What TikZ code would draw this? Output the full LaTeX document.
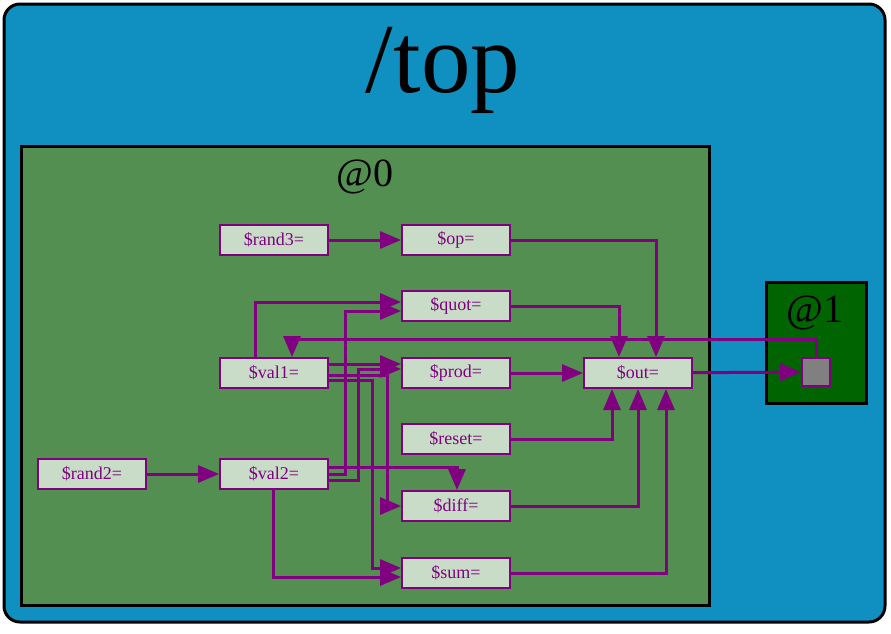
\documentclass[tikz,border=0pt]{standalone}
\usepackage{fontspec}
\setmainfont{Liberation Serif}
\usetikzlibrary{arrows.meta}
\definecolor{topblue}{HTML}{1090C0}
\definecolor{grpgreen}{HTML}{528F50}
\definecolor{darkgrp}{HTML}{006400}
\definecolor{nodefill}{HTML}{C8DCC8}
\definecolor{edgepurple}{HTML}{800080}
\tikzset{
  sig/.style={draw=edgepurple, line width=2pt, fill=nodefill, text=edgepurple,
    minimum width=108pt, minimum height=30pt, inner sep=0pt,
    font=\fontsize{18}{20}\selectfont},
  port/.style={draw=edgepurple, line width=2pt, fill=gray, minimum size=28pt, inner sep=0pt},
  wire/.style={draw=edgepurple, line width=3pt, -{Triangle[length=21pt,width=17pt]}},
}
\begin{document}
\begin{tikzpicture}[x=1pt,y=-1pt]
\useasboundingbox (0,0) rectangle (891,633);
% outer group
\draw[line width=3pt, fill=topblue, rounded corners=16pt] (4,4) rectangle (885,622);
\node[anchor=base, font=\fontsize{99}{100}\selectfont] (toplabel) at (443,92) {/top};
% @0 group
\draw[line width=3pt, fill=grpgreen] (21,146) rectangle (709,605);
\node[anchor=base, font=\fontsize{40}{42}\selectfont] (g0label) at (365,186) {@0};
% @1 group
\draw[line width=3pt, fill=darkgrp] (766,282) rectangle (866,403);
\node[anchor=base, font=\fontsize{40}{42}\selectfont] (g1label) at (815,322) {@1};
\node[port] (sq) at (816,372) {};
% signal nodes
\node[sig] (rand3) at (274,240) {\$rand3=};
\node[sig] (op) at (456,240) {\$op=};
\node[sig] (quot) at (456,306) {\$quot=};
\node[sig] (val1) at (274,373) {\$val1=};
\node[sig] (prod) at (456,373) {\$prod=};
\node[sig] (out) at (638,373) {\$out=};
\node[sig] (reset) at (456,439) {\$reset=};
\node[sig] (rand2) at (92,474) {\$rand2=};
\node[sig] (val2) at (274,474) {\$val2=};
\node[sig] (diff) at (456,506) {\$diff=};
\node[sig] (sum) at (456,573) {\$sum=};
% connectors
\coordinate (fb) at (816,339);
\draw[wire] (rand3) -- (op);
\draw[wire] (op.east) -| ([xshift=18pt]out.north);
\draw[wire] (quot.east) -| ([xshift=-19pt]out.north);
\draw[wire] (prod) -- (out);
\draw[wire] (reset.east) -| ([xshift=-26pt]out.south);
\draw[wire] (diff.east) -| (out.south);
\draw[wire] (sum.east) -| ([xshift=28pt]out.south);
\draw[wire] (out) -- (sq);
\draw[wire] (sq.north) -- (sq.north |- fb) -| ([xshift=18pt]val1.north);
\draw[wire] (rand2) -- (val2);
\draw[wire] ([xshift=-19pt]val1.north) |- ([yshift=4pt]quot.west);
\draw[wire] (val2.east) -- ++(16,0) |- ([yshift=-5pt]quot.west);
\draw[wire] ([yshift=-6pt]val2.east) -- ++(29,0) |- ([yshift=4pt]prod.west);
\draw[wire] ([yshift=9pt]val1.east) -- ([yshift=9pt]prod.west);
\draw[wire] ([yshift=-2pt]val1.east) -- ++(58,0) |- (diff.west);
\draw[wire] ([yshift=-7pt]val1.east) -- ++(43,0) |- ([yshift=5pt]sum.west);
\draw[wire] ([yshift=7pt]val2.east) -| ([xshift=1pt]diff.north);
\draw[wire] ([xshift=-1pt]val2.south) |- ([yshift=-4pt]sum.west);
\end{tikzpicture}
\end{document}
